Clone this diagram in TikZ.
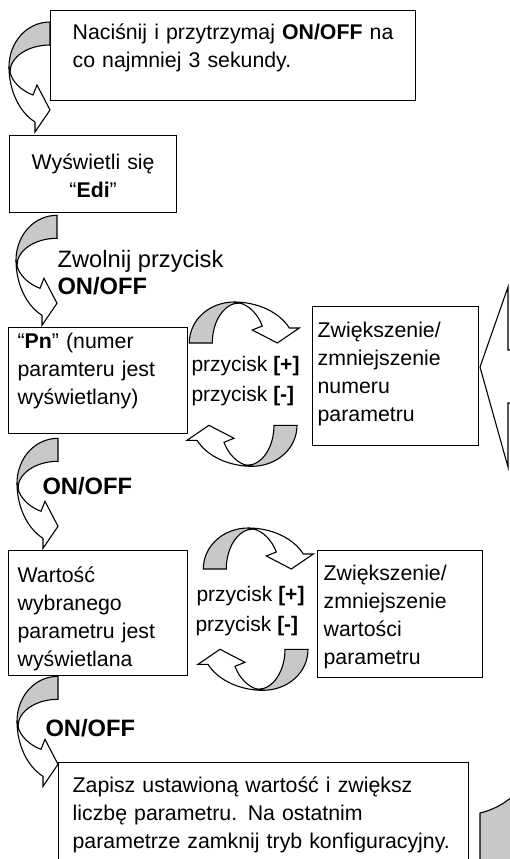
\documentclass[tikz,border=0pt]{standalone}
\usepackage{fontspec}
\setmainfont{Liberation Sans}
\definecolor{BackGray}{RGB}{200,200,200}
\newcommand{\upstrut}[1]{\rule{0pt}{#1pt}}
\newcommand{\dnstrut}[1]{\rule[-#1pt]{0pt}{#1pt}}
\tikzset{
  curvR/.pic={
    \draw[fill=BackGray] (0,0) .. controls (-23,0) and (-41,20) .. (-41,45)
      -- (-40,50) .. controls (-40,35) and (-22,23) .. (0,23) -- cycle;
    \draw[fill=white] (-41,45) .. controls (-41,68) and (-31,90) .. (-15,100)
      -- (-15,110) -- (0,88) -- (-13,63) -- (-17,73)
      .. controls (-28,69) and (-38,60) .. (-40,50) -- cycle;
  },
  loopD/.pic={\pic[cm={0,-1,-1,0,(0,0)}] {curvR};},
  loopU/.pic={\pic[cm={0,1,1,0,(0,0)}] {curvR};}
}

\begin{document}
\begin{tikzpicture}[x=1pt,y=-1pt,line width=1.1pt,
  box/.style={draw,fill=white,line width=1.3pt,anchor=north west,align=left,
    inner ysep=0pt,font=\fontsize{21.3}{28}\selectfont},
  lbl/.style={inner sep=0pt,align=left,font=\fontsize{23.7}{27}\selectfont},
  key/.style={inner sep=0pt,anchor=base west,font=\fontsize{21}{28}\selectfont}]
  \useasboundingbox (0,0) rectangle (510,859);
  \clip (0,0) rectangle (510,859);

  % boxes
  \node[box,minimum width=365pt,minimum height=90pt,text width=321pt,inner xsep=22pt] (nacisnij) at (50,10)
    {\upstrut{17}Naciśnij i przytrzymaj \textbf{ON/OFF} na\\co najmniej 3 sekundy.\dnstrut{20.4}};
  \node[box,align=center,minimum width=167pt,minimum height=77pt,text width=157pt,inner xsep=5pt] (edi) at (9,135)
    {\upstrut{24.6}Wyświetli się\\“\textbf{Edi}”\dnstrut{5}};
  \node[box,minimum width=179pt,minimum height=106pt,text width=161pt,inner xsep=9pt] (pn) at (8,327)
    {\upstrut{17}“\textbf{Pn}” (numer\\paramteru jest\\wyświetlany)\dnstrut{24.4}};
  \node[box,minimum width=166pt,minimum height=139pt,text width=156pt,inner xsep=5pt] (numeru) at (312,306)
    {\upstrut{17}Zwiększenie/\\zmniejszenie\\numeru\\parametru\dnstrut{9.4}};
  \node[box,minimum width=179pt,minimum height=125pt,text width=161pt,inner xsep=9pt] (wartosc) at (8,550)
    {\upstrut{27.4}Wartość\\wybranego\\parametru jest\\wyświetlana\dnstrut{5}};
  \node[box,minimum width=165pt,minimum height=127pt,text width=153pt,inner xsep=6pt] (wartosci) at (317,550)
    {\upstrut{22}Zwiększenie/\\zmniejszenie\\wartości\\parametru\dnstrut{5}};
  \node[box,minimum width=410pt,minimum height=103.4pt,text width=382pt,inner xsep=14pt] (zapisz) at (58,762)
    {\upstrut{17}Zapisz ustawioną wartość i zwiększ\\liczbę parametru. Na ostatnim\\\mbox{parametrze zamknij tryb konfiguracyjny.}\dnstrut{5}};

  % labels
  \node[lbl,anchor=west] (zwolnij) at (57,273) {Zwolnij przycisk\\\textbf{ON/OFF}};
  \node[lbl,anchor=west] (onoffa) at (42,486) {\textbf{ON/OFF}};
  \node[lbl,anchor=west] (onoffb) at (45,728) {\textbf{ON/OFF}};
  \node[key] (plusa) at (191,371) {przycisk \textbf{[+]}};
  \node[key] (minusa) at (191,401) {przycisk \textbf{[-]}};
  \node[key] (plusb) at (196,601) {przycisk \textbf{[+]}};
  \node[key] (minusb) at (195,631) {przycisk \textbf{[-]}};

  % curved arrows
  \pic at ([yshift=-12pt]nacisnij.north west) {curvR};
  \pic at ([xshift=48pt,yshift=-2pt]edi.south west) {curvR};
  \pic at ([xshift=50pt,yshift=-4pt]pn.south west) {curvR};
  \pic at ([xshift=50pt]wartosc.south west) {curvR};
  \pic at ([xshift=1pt,yshift=-16pt]pn.north east) {loopD};
  \pic at ([xshift=-15pt,yshift=21pt]numeru.south west) {loopU};
  \pic at ([xshift=15pt,yshift=-19pt]wartosc.north east) {loopD};
  \pic at ([xshift=-9pt,yshift=29pt]wartosci.south west) {loopU};

  % big return arrow, cut by the page edge
  \draw[fill=white] (530,350) -- (508,350) -- (508,287) -- (480,367) -- (508,467)
    -- (508,403) -- (530,403) -- cycle;
  \draw[fill=BackGray] (480,880) -- (480,813) .. controls (492,810) and (503,805) .. (514,795)
    -- (530,795) -- (530,880) -- cycle;
\end{tikzpicture}
\end{document}
